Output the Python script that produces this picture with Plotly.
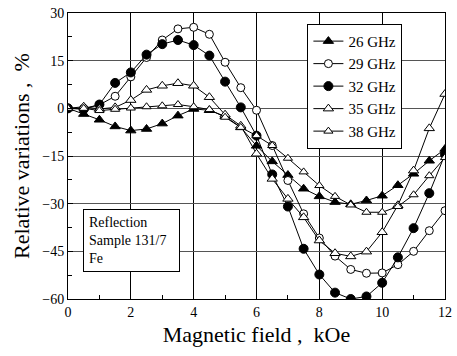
import plotly.graph_objects as go

field = [0, 0.5, 1, 1.5, 2, 2.5, 3, 3.5, 4, 4.5, 5, 5.5, 6, 6.5, 7, 7.5, 8, 8.5, 9, 9.5, 10, 10.5, 11, 11.5, 12]
f26 = [0, -1.8, -3.6, -5.7, -7, -6.5, -4.8, -2.3, -0.2, -0.6, -2.5, -6, -11.8, -16.7, -21, -25.3, -27.7, -29.5, -30.2, -29, -27.5, -24.2, -20.6, -16.5, -12.8]
f29 = [0, 0, 1.1, 3.8, 9.9, 16, 21.5, 25, 25.5, 23.3, 14.5, 6.5, -0.6, -11.7, -22.7, -33.2, -40.8, -46.5, -50.7, -51.9, -51.8, -49.2, -45, -38.5, -32.2]
f32 = [0, -0.3, 1.2, 8, 11.3, 16.9, 20.2, 21.5, 19.9, 16.6, 8.4, 0.3, -8.6, -20.8, -30.9, -44.2, -52.3, -58, -60, -59.2, -54.9, -46.9, -37.7, -26.7, -14.5]
f35 = [0, 0.5, -0.2, 0.3, 2.6, 5.8, 7.1, 7.9, 7.1, 3.5, -2, -5.5, -14.3, -22.2, -28.5, -34.3, -41.6, -45.6, -46.6, -45.1, -39, -30.5, -19.6, -6.3, 4.5]
f38 = [0, 0, -0.7, -0.3, 0.1, 0.5, 0.8, 1.2, 0.5, -0.4, -2.8, -6, -8.6, -11.7, -15.7, -20, -24.3, -27.7, -30.4, -32.7, -32.7, -30.9, -27.2, -21.2, -15.5]

series = [
    ("26 GHz", f26, "triangle-up", "black", 9),
    ("29 GHz", f29, "circle", "white", 8),
    ("32 GHz", f32, "circle", "black", 9),
    ("35 GHz", f35, "triangle-up", "white", 9),
    ("38 GHz", f38, "triangle-up", "white", 8),
]

SERIF = "Liberation Serif"

fig = go.Figure()
for name, ys, sym, fill, sz in series:
    fig.add_trace(go.Scatter(
        x=field, y=ys, name=name, mode="lines+markers",
        line=dict(color="black", width=1),
        marker=dict(symbol=sym, size=sz, color=fill, line=dict(color="black", width=1)),
    ))

fig.update_layout(
    width=457, height=356,
    margin=dict(l=68, r=5, t=13, b=57),
    paper_bgcolor="white", plot_bgcolor="white",
    font=dict(family=SERIF, color="black", size=14),
    showlegend=True,
    legend=dict(
        x=0.635, y=0.962, xanchor="left", yanchor="top",
        bgcolor="white", bordercolor="black", borderwidth=1,
        font=dict(family=SERIF, size=15, color="black"),
        tracegroupgap=0, itemwidth=30,
    ),
    xaxis=dict(
        range=[0, 12], dtick=2, tick0=0,
        ticks="inside", ticklen=5, tickcolor="black",
        showgrid=True, gridcolor="black", gridwidth=1,
        zeroline=False, showline=True, linecolor="black", linewidth=1, mirror=True,
        minor=dict(dtick=1, ticks="inside", ticklen=4, tickcolor="black", showgrid=False),
        title=dict(text="Magnetic field ,\u00a0 kOe", font=dict(family=SERIF, size=22), standoff=7),
        tickfont=dict(family=SERIF, size=14),
        ticklabeloverflow="allow",
    ),
    yaxis=dict(
        range=[-60, 30], dtick=15, tick0=0,
        ticks="inside", ticklen=5, tickcolor="black",
        showgrid=True, gridcolor="#555555", gridwidth=1,
        zeroline=False, showline=True, linecolor="black", linewidth=1, mirror=True,
        minor=dict(dtick=7.5, ticks="inside", ticklen=4, tickcolor="black", showgrid=False),
        title=dict(text="Relative variations ,\u00a0 %", font=dict(family=SERIF, size=22), standoff=6),
        tickfont=dict(family=SERIF, size=14),
        ticklabeloverflow="allow",
    ),
    annotations=[dict(
        text="Reflection<br>Sample 131/7<br>Fe",
        xref="paper", yref="paper", x=0.041, y=0.313,
        xanchor="left", yanchor="top", align="left",
        showarrow=False, bgcolor="white", bordercolor="black", borderwidth=1,
        borderpad=5, width=85,
        font=dict(family=SERIF, size=14, color="black"),
    )],
)

fig.write_html("out.html")
